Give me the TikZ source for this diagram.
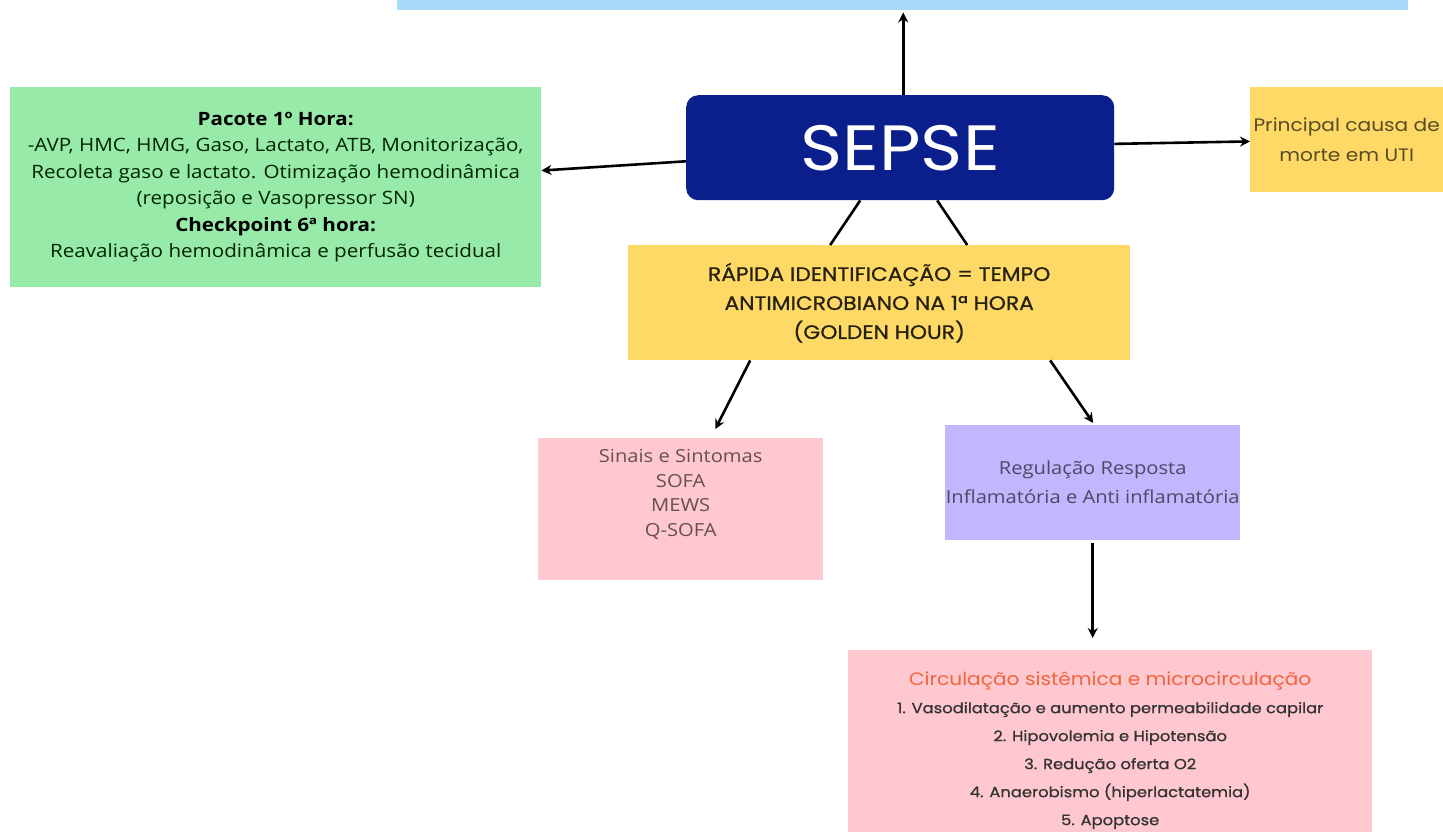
\documentclass[tikz,border=0pt]{standalone}
\usepackage{fontspec}
\setmainfont[FakeStretch = 1.12]{Open Sans}
\newfontfamily\montfont[FakeStretch = 1.12]{Poppins}
\newfontfamily\montmedio[FakeStretch = 1.12, FakeBold = 0.8]{Poppins}
\usetikzlibrary{arrows.meta,positioning}
\definecolor{azulClaro}{RGB}{170,218,250}
\definecolor{azulEscuro}{RGB}{10,30,140}
\definecolor{verde}{RGB}{152,234,168}
\definecolor{amarelo}{RGB}{255,217,102}
\definecolor{rosa}{RGB}{255,199,207}
\definecolor{lilas}{RGB}{192,183,254}
\definecolor{laranja}{RGB}{240,100,60}

\begin{document}
\begin{tikzpicture}[x = 1pt, y = -1pt]
     \tikzset{BoxStyle/.style  = {rectangle, inner sep = 0pt,
                                  align = center, anchor = north west},
              EdgeStyle/.style = {line width = 2.6pt,
                                  -{Stealth[length = 10pt, width = 10pt]}},
              LinkStyle/.style = {line width = 2.6pt}}
     \useasboundingbox (0,0) rectangle (1443,831);
     \node[BoxStyle, fill = azulClaro, minimum width = 1011pt,
           minimum height = 50pt] (topo) at (397,-40) {};
     \node[BoxStyle, fill = azulEscuro, rounded corners = 12pt,
           minimum width = 428pt, minimum height = 105pt,
           text = white, font = \montfont\fontsize{64}{70}\selectfont]
           (sepse) at (686,95) {SEPSE};
     \node[BoxStyle, fill = verde, minimum width = 531pt,
           minimum height = 200pt, text = black!75!green!60!black,
           font = \fontsize{18.4}{26.5}\selectfont]
           (pacote) at (10,87)
           {\textbf{\color{black}Pacote 1º Hora:}\\
            -AVP, HMC, HMG, Gaso, Lactato, ATB, Monitorização,\\
            Recoleta gaso e lactato. Otimização hemodinâmica\\
            (reposição e Vasopressor SN)\\
            \textbf{\color{black}Checkpoint 6ª hora:}\\
            Reavaliação hemodinâmica e perfusão tecidual};
     \node[BoxStyle, fill = amarelo, minimum width = 193pt,
           minimum height = 105pt, text = black!65!amarelo,
           font = \montfont\fontsize{18}{30}\selectfont]
           (causa) at (1250,87)
           {Principal causa de\\morte em UTI};
     \node[BoxStyle, fill = amarelo, minimum width = 502pt,
           minimum height = 115pt, text = black!85!amarelo,
           font = \montmedio\fontsize{19.5}{29}\selectfont]
           (golden) at (628,245)
           {RÁPIDA IDENTIFICAÇÃO = TEMPO\\
            ANTIMICROBIANO NA 1ª HORA\\
            (GOLDEN HOUR)};
     \node[BoxStyle, fill = rosa, minimum width = 285pt,
           minimum height = 142pt, text = black!60!rosa,
           font = \fontsize{18}{24.5}\selectfont]
           (sinais) at (538,438)
           {Sinais e Sintomas\\SOFA\\MEWS\\Q-SOFA\\[8pt]\mbox{}};
     \node[BoxStyle, fill = lilas, minimum width = 295pt,
           minimum height = 115pt, text = black!60!lilas,
           font = \fontsize{18}{29}\selectfont]
           (regulacao) at (945,425)
           {Regulação Resposta\\Inflamatória e Anti inflamatória};
     \node[BoxStyle, fill = rosa, minimum width = 524pt,
           minimum height = 200pt, text = black!80,
           font = \montfont\fontsize{14.6}{28}\selectfont]
           (circulacao) at (848,650)
           {\vspace*{-34pt}{\color{laranja}\fontsize{18}{28}\selectfont
             Circulação sistêmica e microcirculação}\\
            \montmedio 1. Vasodilatação e aumento permeabilidade capilar\\
            \montmedio 2. Hipovolemia e Hipotensão\\
            \montmedio 3. Redução oferta O2\\
            \montmedio 4. Anaerobismo (hiperlactatemia)\\
            \montmedio 5. Apoptose};
     % setas a partir do SEPSE
     \draw[EdgeStyle] ([xshift = 3pt]sepse.north) -- ([xshift = 0.5pt, yshift = -2pt]topo.south);
     \draw[EdgeStyle] (sepse) -- (pacote);
     \draw[EdgeStyle] (sepse) -- (causa);
     \draw[LinkStyle] ([xshift = -40pt]sepse.south) -- ([xshift = -49pt]golden.north);
     \draw[LinkStyle] ([xshift = 37pt]sepse.south) -- ([xshift = 88pt]golden.north);
     \draw[EdgeStyle, shorten > = 10pt] ([xshift = -129pt]golden.south) -- ([xshift = 30pt]sinais.north);
     \draw[EdgeStyle] ([xshift = 171pt]golden.south) -- ([xshift = 0.5pt, yshift = 2pt]regulacao.north);
     \draw[EdgeStyle, shorten > = 12pt] ([yshift = -3pt]regulacao.south) -- (regulacao.south |- circulacao.north);
  \end{tikzpicture}
\end{document}
